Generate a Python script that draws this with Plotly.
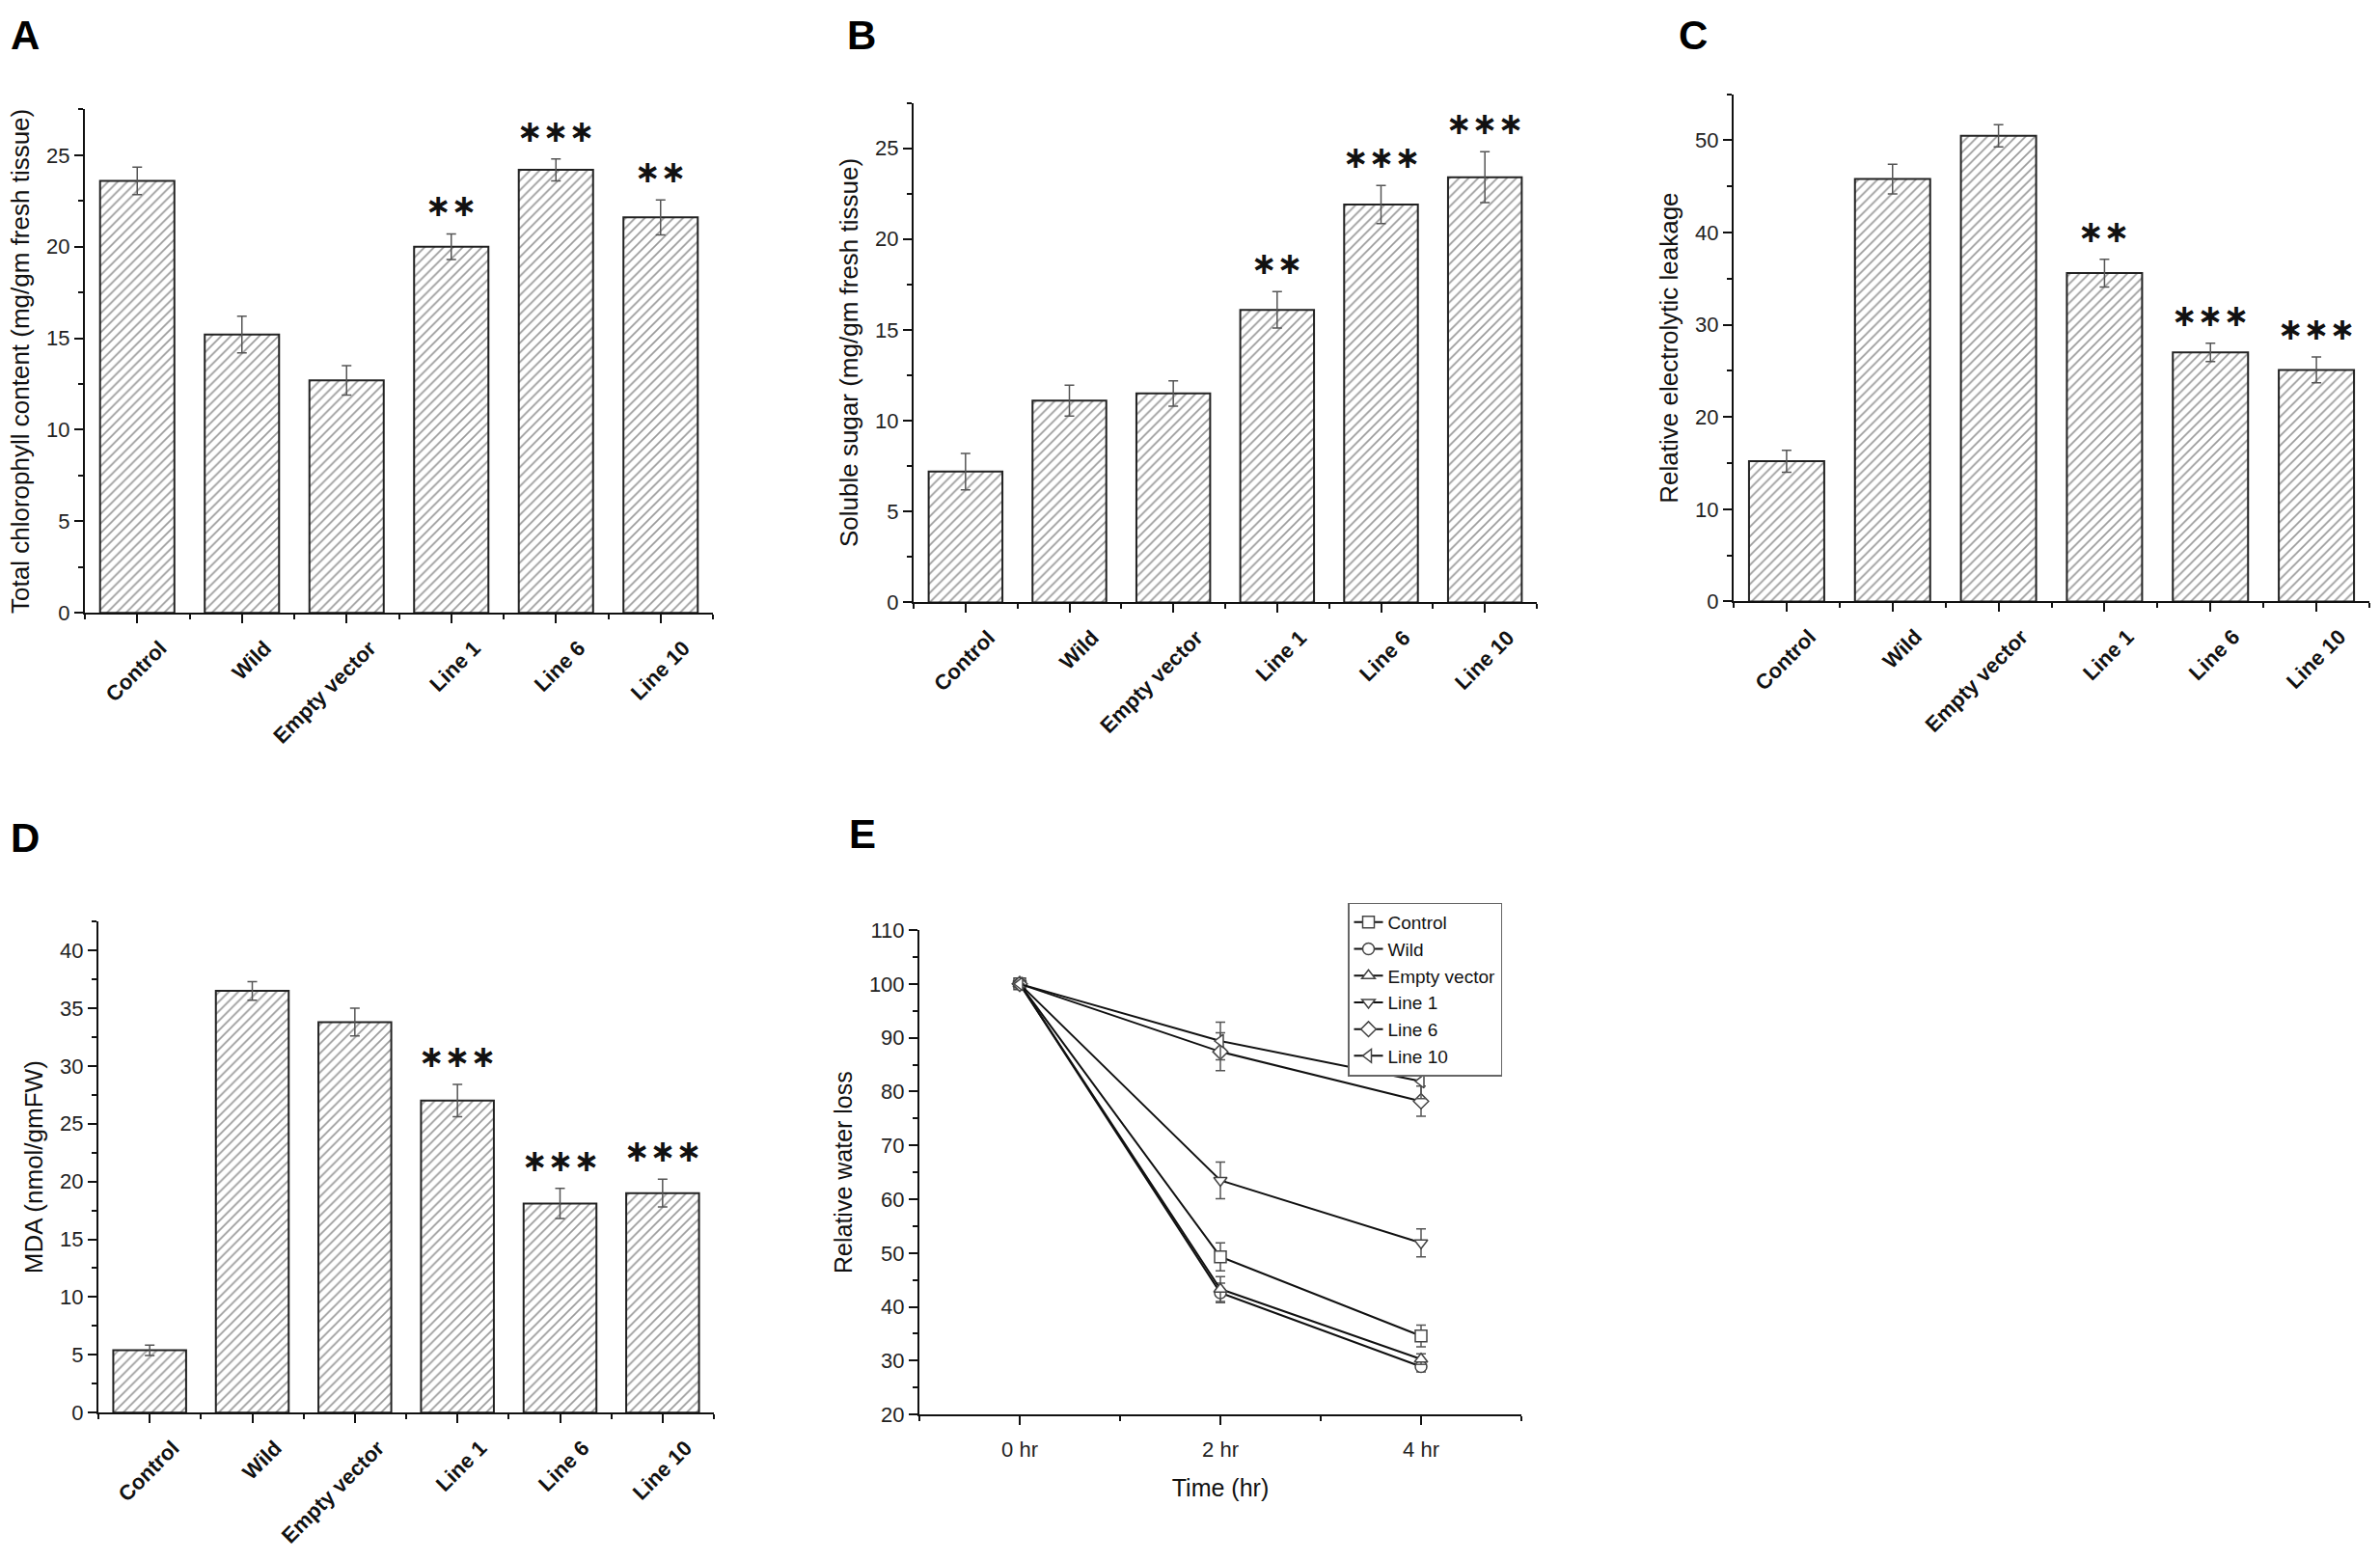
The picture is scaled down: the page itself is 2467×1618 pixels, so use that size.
import plotly.graph_objects as go

W, H = 2467, 1618

categories = ["Control", "Wild", "Empty vector", "Line 1", "Line 6", "Line 10"]

chl_vals = [23.6, 15.2, 12.7, 20.0, 24.2, 21.6]
chl_errs = [0.75, 1.0, 0.8, 0.7, 0.6, 0.95]
chl_stars = ["", "", "", "**", "***", "**"]

sug_vals = [7.2, 11.1, 11.5, 16.1, 21.9, 23.4]
sug_errs = [1.0, 0.85, 0.7, 1.0, 1.05, 1.4]
sug_stars = ["", "", "", "**", "***", "***"]

el_vals = [15.2, 45.8, 50.5, 35.6, 27.0, 25.1]
el_errs = [1.2, 1.6, 1.2, 1.5, 1.0, 1.4]
el_stars = ["", "", "", "**", "***", "***"]

mda_vals = [5.4, 36.5, 33.8, 27.0, 18.1, 19.0]
mda_errs = [0.45, 0.8, 1.2, 1.4, 1.3, 1.2]
mda_stars = ["", "", "", "***", "***", "***"]

times = [0, 2, 4]
time_labels = ["0 hr", "2 hr", "4 hr"]
rwl_series = ["Control", "Wild", "Empty vector", "Line 1", "Line 6", "Line 10"]
rwl_vals = [
    [100, 49.3, 34.6],
    [100, 42.6, 28.9],
    [100, 43.3, 30.3],
    [100, 63.5, 51.9],
    [100, 87.4, 78.2],
    [100, 89.4, 81.9],
]
rwl_errs = [
    [0, 2.6, 2.0],
    [0, 1.8, 1.0],
    [0, 2.3, 1.0],
    [0, 3.4, 2.6],
    [0, 3.5, 2.8],
    [0, 3.5, 3.2],
]
rwl_symbols = ["square", "circle", "triangle-up", "triangle-down", "diamond", "triangle-left"]

FONT = "Liberation Sans"


def px_dom_x(a, b):
    return [a / W, b / W]


def px_dom_y(top, bottom):
    return [1 - bottom / H, 1 - top / H]


panels = [
    dict(vals=chl_vals, errs=chl_errs, stars=chl_stars,
         title="Total chlorophyll content (mg/gm fresh tissue)",
         yrange=[0, 27.5], dtick=5, mdtick=2.5,
         xd=px_dom_x(88, 739), yd=px_dom_y(103, 633)),
    dict(vals=sug_vals, errs=sug_errs, stars=sug_stars,
         title="Soluble sugar (mg/gm fresh tissue)",
         yrange=[0, 27.5], dtick=5, mdtick=2.5,
         xd=px_dom_x(947, 1593), yd=px_dom_y(96, 622)),
    dict(vals=el_vals, errs=el_errs, stars=el_stars,
         title="Relative electrolytic leakage",
         yrange=[0, 55], dtick=10, mdtick=5,
         xd=px_dom_x(1797, 2456), yd=px_dom_y(87, 621)),
    dict(vals=mda_vals, errs=mda_errs, stars=mda_stars,
         title="MDA (nmol/gmFW)",
         yrange=[0, 42.5], dtick=5, mdtick=2.5,
         xd=px_dom_x(102, 740), yd=px_dom_y(958, 1475)),
]

fig = go.Figure()
layout = dict(
    width=W, height=H,
    margin=dict(l=0, r=0, t=0, b=0),
    paper_bgcolor="white", plot_bgcolor="white",
    font=dict(family=FONT, color="#111"),
    annotations=[],
)

positions = list(range(len(categories)))
minor_pos = [p + 0.5 for p in [-1] + positions]

for i, p in enumerate(panels, start=1):
    xa = "x" if i == 1 else f"x{i}"
    ya = "y" if i == 1 else f"y{i}"
    fig.add_trace(go.Bar(
        x=positions, y=p["vals"], width=0.71,
        xaxis=xa, yaxis=ya, showlegend=False,
        marker=dict(color="white", line=dict(color="#222", width=2),
                    pattern=dict(shape="/", size=7, solidity=0.24,
                                 fgcolor="#333", bgcolor="white")),
        error_y=dict(type="data", array=p["errs"], color="#555",
                     thickness=1.5, width=5),
    ))
    layout[f"xaxis{i}"] = dict(
        domain=p["xd"], anchor=ya, range=[-0.5, 5.5],
        tickmode="array", tickvals=positions, ticktext=categories,
        tickangle=-45, ticks="outside", ticklen=9, tickwidth=2, tickcolor="#111",
        ticklabelshift=24, ticklabelstandoff=4,
        showline=True, linewidth=2, linecolor="#111",
        showgrid=False, zeroline=False,
        tickfont=dict(family=FONT, size=22, color="#111", weight="bold"),
        minor=dict(tickmode="array", tickvals=minor_pos, ticks="outside",
                   ticklen=5, tickwidth=1.5, tickcolor="#111"),
    )
    layout[f"yaxis{i}"] = dict(
        domain=p["yd"], anchor=xa, range=p["yrange"],
        dtick=p["dtick"], tick0=0, ticks="outside", ticklen=9, tickwidth=2,
        tickcolor="#111", showline=True, linewidth=2, linecolor="#111",
        showgrid=False, zeroline=False,
        tickfont=dict(family=FONT, size=22, color="#222"),
        minor=dict(dtick=p["mdtick"], ticks="outside", ticklen=5,
                   tickwidth=1.5, tickcolor="#111"),
        title=dict(text=p["title"], font=dict(family=FONT, size=26, color="#111"),
                   standoff=10),
    )
    for j, s in enumerate(p["stars"]):
        if s:
            layout["annotations"].append(dict(
                x=positions[j], y=p["vals"][j] + p["errs"][j], xref=xa, yref=ya,
                text="∗" * len(s), showarrow=False, yanchor="bottom", yshift=8,
                font=dict(family="DejaVu Sans", size=32, color="#111", weight="bold"),
            ))

# Panel E
for k, name in enumerate(rwl_series):
    fig.add_trace(go.Scatter(
        x=times, y=rwl_vals[k], name=name, mode="lines+markers",
        xaxis="x5", yaxis="y5",
        line=dict(color="#111", width=2),
        marker=dict(symbol=rwl_symbols[k], size=12, color="white",
                    line=dict(color="#444", width=1.5)),
        error_y=dict(type="data", array=rwl_errs[k], color="#555",
                     thickness=1.5, width=5),
    ))

layout["xaxis5"] = dict(
    domain=px_dom_x(953, 1577), anchor="y5", range=[-1, 5],
    tickmode="array", tickvals=times, ticktext=time_labels,
    ticks="outside", ticklen=9, tickwidth=2, tickcolor="#111",
    ticklabelstandoff=6,
    showline=True, linewidth=2, linecolor="#111", showgrid=False, zeroline=False,
    tickfont=dict(family=FONT, size=22, color="#222"),
    minor=dict(tickmode="array", tickvals=[-1, 1, 3, 5], ticks="outside",
               ticklen=5, tickwidth=1.5, tickcolor="#111"),
    title=dict(text="Time (hr)", font=dict(family=FONT, size=25, color="#111"),
               standoff=20),
)
layout["yaxis5"] = dict(
    domain=px_dom_y(967, 1477), anchor="x5", range=[20, 110],
    dtick=10, tick0=0, ticks="outside", ticklen=9, tickwidth=2, tickcolor="#111",
    showline=True, linewidth=2, linecolor="#111", showgrid=False, zeroline=False,
    tickfont=dict(family=FONT, size=22, color="#222"),
    minor=dict(dtick=5, ticks="outside", ticklen=5, tickwidth=1.5, tickcolor="#111"),
    title=dict(text="Relative water loss", font=dict(family=FONT, size=25, color="#111"),
               standoff=10),
)
layout["legend"] = dict(
    x=1397 / W, y=1 - 938 / H, xanchor="left", yanchor="top",
    bgcolor="white", bordercolor="#666", borderwidth=1.5,
    font=dict(family=FONT, size=19, color="#111"),
    tracegroupgap=0, itemwidth=30,
)

letters = [("A", 9, 25), ("B", 876, 25), ("C", 1738, 25), ("D", 9, 870), ("E", 878, 866)]
for t, lx, ly in letters:
    layout["annotations"].append(dict(
        x=lx / W, y=1 - ly / H, xref="paper", yref="paper",
        xanchor="left", yanchor="middle", text=t, showarrow=False,
        font=dict(family=FONT, size=42, color="black", weight="bold"),
    ))

fig.update_layout(**layout)
fig.write_html("out.html", config={"displayModeBar": False},
               post_script="document.body.style.margin='0';")
